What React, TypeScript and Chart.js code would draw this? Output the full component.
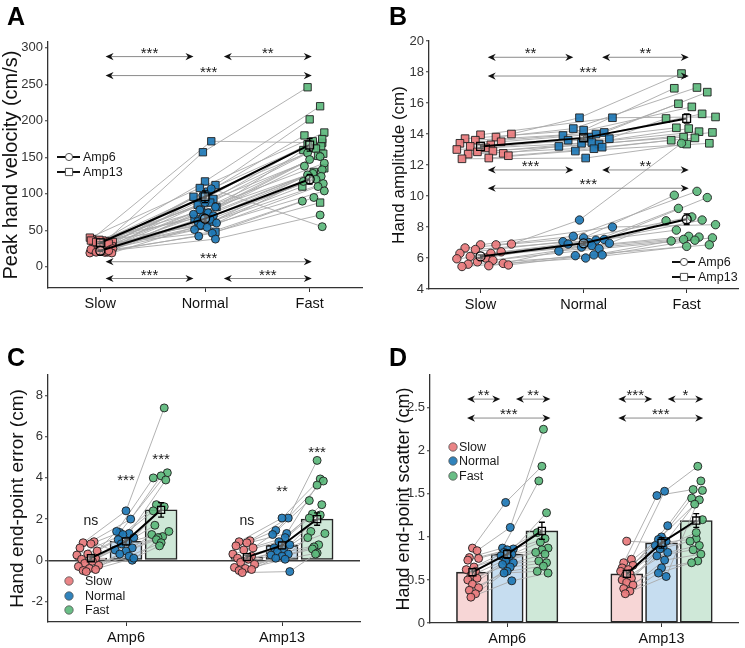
import React, { useEffect, useRef } from 'react';
import { Chart, registerables } from 'chart.js';

Chart.register(...registerables);

const FONT = "'Liberation Sans', Arial, Helvetica, sans-serif";

// ---------------- shared labels ----------------
const speedLabels = ['Slow', 'Normal', 'Fast'];
const ampLabels = ['Amp6', 'Amp13'];

// ---------------- Panel A : peak hand velocity (cm/s) ----------------
const velTicks = [0, 50, 100, 150, 200, 250, 300];
const velSlowAmp6 = [22, 20, 21, 24, 19, 23, 20, 22, 25, 21, 20, 23, 19, 22, 24, 21, 20, 22];
const velNormalAmp6 = [107, 98, 88, 82, 78, 74, 72, 70, 68, 65, 62, 60, 57, 54, 51, 46, 42, 38];
const velFastAmp6 = [55, 156, 151, 147, 142, 138, 133, 128, 126, 124, 120, 117, 114, 110, 104, 95, 90, 71];
const velSlowAmp13 = [38, 35, 32, 30, 40, 36, 33, 29, 34, 37, 31, 35, 28, 33, 36, 30, 34, 32];
const velNormalAmp13 = [172, 157, 117, 112, 108, 103, 96, 93, 92, 88, 85, 82, 78, 74, 66, 62, 56, 48];
const velFastAmp13 = [170, 246, 220, 202, 184, 180, 175, 172, 168, 165, 162, 160, 155, 152, 135, 130, 110, 88];
const velMeanAmp6 = [22, 66, 120];
const velSemAmp6 = [0.8, 4.5, 6.5];
const velMeanAmp13 = [33, 96, 167];
const velSemAmp13 = [1.2, 8, 8.5];
const velJitterSlow = [-0.08, 0.05, -0.03, 0.1, -0.1, 0.02, 0.07, -0.05, 0.12, -0.01, 0.04, -0.07, 0.11, 0.0, -0.09, 0.06, -0.04, 0.08];
const velJitterNormal = [0.06, -0.02, 0.0, 0.1, -0.05, 0.03, -0.11, 0.08, -0.02, 0.05, -0.07, 0.11, -0.04, 0.02, -0.1, 0.07, -0.06, 0.1];
const velJitterFast = [0.12, -0.02, 0.1, 0.0, 0.14, -0.05, 0.12, 0.03, -0.02, 0.11, 0.06, -0.06, 0.13, 0.08, 0.14, 0.04, -0.07, 0.1];
const velSig = [
  { from: 0.05, to: 0.89, y: 288, label: '***' },
  { from: 1.18, to: 2.02, y: 288, label: '**' },
  { from: 0.05, to: 2.02, y: 262, label: '***' },
  { from: 0.05, to: 2.02, y: 7, label: '***' },
  { from: 0.05, to: 0.89, y: -16, label: '***' },
  { from: 1.18, to: 2.02, y: -16, label: '***' },
];

// ---------------- Panel B : hand amplitude (cm) ----------------
const ampTicks = [4, 6, 8, 10, 12, 14, 16, 18, 20];
const ampSlowAmp6 = [6.9, 6.85, 6.85, 6.65, 6.55, 6.4, 6.3, 6.3, 6.1, 6.0, 5.95, 5.85, 5.75, 5.65, 5.6, 5.55, 5.5, 5.45];
const ampNormalAmp6 = [8.45, 8.0, 7.4, 7.3, 7.2, 7.15, 7.05, 7.0, 6.95, 6.9, 6.8, 6.7, 6.6, 6.45, 6.2, 6.2, 6.15, 6.0];
const ampFastAmp6 = [13.4, 8.15, 10.3, 10.05, 9.9, 9.2, 8.65, 8.45, 8.4, 7.8, 7.4, 7.35, 7.3, 7.2, 7.15, 7.1, 6.85, 6.75];
const ampSlowAmp13 = [14.0, 13.95, 13.8, 13.7, 13.6, 13.5, 13.4, 13.3, 13.2, 13.1, 13.0, 12.9, 12.85, 12.75, 12.7, 12.6, 12.45, 12.4];
const ampNormalAmp13 = [15.05, 15.05, 14.35, 14.25, 14.1, 14.0, 13.9, 13.8, 13.7, 13.6, 13.45, 13.4, 13.35, 13.2, 13.15, 13.05, 12.9, 12.45];
const ampFastAmp13 = [17.9, 15.1, 17.0, 16.95, 16.7, 15.95, 15.75, 15.3, 15.0, 14.4, 14.35, 14.15, 14.1, 13.8, 13.75, 13.6, 13.4, 13.35];
const ampMeanAmp6 = [6.1, 6.95, 8.5];
const ampSemAmp6 = [0.1, 0.12, 0.35];
const ampMeanAmp13 = [13.2, 13.75, 15.0];
const ampSemAmp13 = [0.12, 0.15, 0.3];
const ampJitterSlow = [0.3, 0.0, 0.15, -0.15, -0.05, 0.2, -0.2, 0.1, -0.1, 0.05, -0.23, 0.12, -0.03, 0.22, -0.12, 0.27, 0.08, -0.18];
const ampJitterNormal = [-0.04, 0.28, -0.1, 0.0, 0.2, 0.12, -0.2, 0.05, 0.25, -0.15, 0.08, -0.02, 0.15, -0.24, 0.18, 0.1, -0.08, 0.02];
const ampJitterFast = [-0.05, 0.28, 0.1, -0.12, 0.2, -0.08, 0.05, 0.15, -0.2, -0.1, 0.02, 0.12, 0.25, -0.03, 0.08, -0.15, 0.22, 0.0];
const ampSig = [
  { from: 0.07, to: 0.9, y: 18.95, label: '**' },
  { from: 1.18, to: 2.02, y: 18.95, label: '**' },
  { from: 0.07, to: 2.02, y: 17.74, label: '***' },
  { from: 0.07, to: 0.9, y: 11.68, label: '***' },
  { from: 1.18, to: 2.02, y: 11.68, label: '**' },
  { from: 0.07, to: 2.02, y: 10.5, label: '***' },
];

// ---------------- Panel C : hand end-point error (cm) ----------------
const errTicks = [-2, 0, 2, 4, 6, 8];
const errSlowAmp6 = [0.9, 0.85, 0.8, 0.6, 0.45, 0.3, 0.25, 0.1, 0.05, -0.05, -0.15, -0.25, -0.3, -0.4, -0.45, -0.5, -0.55];
const errNormalAmp6 = [0.0, 2.4, 1.35, 2.0, 1.4, 1.3, 1.25, 1.1, 1.0, 0.9, 0.8, 0.6, 0.5, 0.45, 0.3, 0.2, 0.1];
const errFastAmp6 = [1.1, 7.4, 4.25, 4.1, 4.0, 3.9, 2.7, 2.6, 2.4, 1.7, 1.4, 1.25, 1.15, 1.1, 1.0, 0.85, 0.7];
const errSlowAmp13 = [0.95, 0.9, 0.85, 0.7, 0.6, 0.5, 0.3, 0.2, 0.1, 0.05, -0.1, -0.2, -0.35, -0.4, -0.45, -0.5, -0.6];
const errNormalAmp13 = [2.05, 2.05, 1.45, 1.3, 1.25, 1.1, 0.9, 0.75, 0.6, 0.5, 0.4, 0.3, 0.25, 0.2, 0.1, 0.05, -0.55];
const errFastAmp13 = [4.85, 3.95, 3.85, 3.65, 2.9, 2.7, 2.25, 2.2, 2.05, 1.4, 1.3, 1.1, 0.75, 0.65, 0.55, 0.35, 0.3];
const errMeanAmp6 = [0.1, 0.92, 2.45];
const errSemAmp6 = [0.1, 0.15, 0.35];
const errMeanAmp13 = [0.15, 0.72, 2.0];
const errSemAmp13 = [0.1, 0.15, 0.3];
const errJitterSlow = [0.02, -0.05, 0.0, -0.07, 0.04, -0.02, -0.09, 0.03, -0.06, 0.01, -0.04, 0.05, -0.08, -0.01, 0.03, -0.05, -0.03];
const errJitterNormal = [0.04, 0.0, -0.04, 0.03, -0.06, 0.02, -0.02, 0.05, -0.05, 0.01, -0.03, 0.04, -0.07, 0.0, -0.04, 0.02, 0.05];
const errJitterFast = [0.0, 0.02, 0.04, 0.0, -0.05, 0.03, -0.03, 0.02, -0.05, -0.04, 0.05, -0.06, 0.01, -0.02, -0.03, 0.0, -0.01];
const errLabels = [
  { x: 0.775, y: 1.7, text: 'ns' },
  { x: 1.0, y: 3.66, text: '***' },
  { x: 1.225, y: 4.68, text: '***' },
  { x: 1.775, y: 1.7, text: 'ns' },
  { x: 2.0, y: 3.12, text: '**' },
  { x: 2.225, y: 5.02, text: '***' },
];

// ---------------- Panel D : hand end-point scatter (cm) ----------------
const scaTicks = [0, 0.5, 1, 1.5, 2, 2.5];
const scaSlowAmp6 = [0.87, 0.84, 0.76, 0.75, 0.73, 0.65, 0.62, 0.6, 0.55, 0.52, 0.5, 0.45, 0.41, 0.38, 0.34, 0.3];
const scaNormalAmp6 = [1.4, 1.11, 0.87, 0.86, 0.85, 0.82, 0.8, 0.78, 0.75, 0.72, 0.7, 0.68, 0.65, 0.6, 0.58, 0.49];
const scaFastAmp6 = [1.82, 2.25, 1.65, 1.28, 1.05, 0.98, 0.94, 0.87, 0.85, 0.82, 0.8, 0.72, 0.7, 0.66, 0.6, 0.58];
const scaSlowAmp13 = [0.95, 0.74, 0.7, 0.67, 0.64, 0.62, 0.6, 0.57, 0.55, 0.52, 0.5, 0.47, 0.44, 0.4, 0.37, 0.34];
const scaNormalAmp13 = [0.93, 1.53, 1.48, 1.13, 1.0, 0.97, 0.95, 0.9, 0.88, 0.86, 0.82, 0.78, 0.73, 0.64, 0.58, 0.54];
const scaFastAmp13 = [0.98, 1.82, 1.55, 1.65, 1.45, 1.43, 1.38, 1.2, 1.05, 0.95, 0.9, 0.85, 0.8, 0.72, 0.7, 1.54];
const scaMeanAmp6 = [0.59, 0.8, 1.07];
const scaSemAmp6 = [0.04, 0.05, 0.1];
const scaMeanAmp13 = [0.57, 0.93, 1.19];
const scaSemAmp13 = [0.04, 0.06, 0.08];
const scaJitterSlow = [0.0, 0.03, -0.02, 0.04, -0.03, 0.01, -0.04, 0.02, -0.01, 0.03, -0.03, 0.0, 0.04, -0.02, 0.02, -0.01];
const scaJitterNormal = [-0.01, 0.02, -0.03, 0.04, 0.0, -0.02, 0.03, -0.04, 0.01, -0.01, 0.04, -0.03, 0.02, 0.0, -0.02, 0.03];
const scaJitterFast = [0.0, 0.01, -0.02, 0.03, -0.03, 0.02, -0.01, 0.04, 0.0, -0.04, 0.02, -0.02, 0.03, 0.01, -0.03, 0.04];
const scaSig = [
  { from: 0.74, to: 0.955, y: 2.6, label: '**' },
  { from: 1.057, to: 1.28, y: 2.6, label: '**' },
  { from: 0.74, to: 1.28, y: 2.38, label: '***' },
  { from: 1.72, to: 1.94, y: 2.6, label: '***' },
  { from: 2.04, to: 2.27, y: 2.6, label: '*' },
  { from: 1.72, to: 2.27, y: 2.38, label: '***' },
];

// ---------------- styles ----------------
const POINT_COLORS = ['rgba(232,122,124,0.92)', 'rgba(30,120,182,0.92)', 'rgba(92,184,124,0.92)'];
const BAR_COLORS = ['#f7d6d6', '#c6ddf0', '#cfe8d8'];
const LINE_GRAY = '#a9a9a9';
const COND_OFFSET = [-0.225, 0, 0.225];

// ---------------- overlay plugin ----------------
function drawHead(ctx: CanvasRenderingContext2D, x: number, y: number, dir: number) {
  const L = 8, W = 3.6, N = 5.5;
  ctx.fillStyle = '#111';
  ctx.beginPath();
  ctx.moveTo(x, y);
  ctx.lineTo(x + dir * L, y - W);
  ctx.lineTo(x + dir * N, y);
  ctx.lineTo(x + dir * L, y + W);
  ctx.closePath();
  ctx.fill();
}

const overlayPlugin: any = {
  id: 'overlay',
  beforeDatasetDraw(chart: any, args: any) {
    const ds: any = chart.data.datasets[args.index];
    if (!ds.errors) return;
    const { ctx } = chart;
    const xs = chart.scales.x, ys = chart.scales.y;
    ctx.save();
    ctx.strokeStyle = '#000';
    ctx.lineWidth = 1.3;
    ds.data.forEach((p: any, i: number) => {
      const px = xs.getPixelForValue(p.x);
      const t = ys.getPixelForValue(p.y + ds.errors[i]);
      const b = ys.getPixelForValue(p.y - ds.errors[i]);
      const c = 3;
      ctx.beginPath();
      ctx.moveTo(px, t); ctx.lineTo(px, b);
      ctx.moveTo(px - c, t); ctx.lineTo(px + c, t);
      ctx.moveTo(px - c, b); ctx.lineTo(px + c, b);
      ctx.stroke();
    });
    ctx.restore();
  },
  afterDatasetsDraw(chart: any, _a: any, opts: any) {
    const { ctx } = chart;
    const xs = chart.scales.x, ys = chart.scales.y;
    ctx.save();
    (opts.arrows || []).forEach((a: any) => {
      const x1 = xs.getPixelForValue(a.from), x2 = xs.getPixelForValue(a.to), y = ys.getPixelForValue(a.y);
      ctx.strokeStyle = '#8a8a8a';
      ctx.lineWidth = 1;
      ctx.beginPath(); ctx.moveTo(x1 + 3, y); ctx.lineTo(x2 - 3, y); ctx.stroke();
      drawHead(ctx, x1, y, 1);
      drawHead(ctx, x2, y, -1);
      ctx.fillStyle = '#1a1a1a';
      ctx.font = `15px ${FONT}`;
      ctx.textAlign = 'center';
      ctx.textBaseline = 'alphabetic';
      ctx.fillText(a.label, (x1 + x2) / 2, y + 1);
    });
    (opts.texts || []).forEach((t: any) => {
      ctx.fillStyle = '#1a1a1a';
      ctx.font = `${t.text === 'ns' ? 14 : 15}px ${FONT}`;
      ctx.textAlign = 'center';
      ctx.textBaseline = 'alphabetic';
      ctx.fillText(t.text, xs.getPixelForValue(t.x), ys.getPixelForValue(t.y));
    });
    (opts.legend || []).forEach((it: any) => {
      ctx.textAlign = 'left';
      ctx.textBaseline = 'middle';
      ctx.font = `12.5px ${FONT}`;
      if (it.kind === 'dot') {
        ctx.fillStyle = it.color;
        ctx.strokeStyle = '#555';
        ctx.lineWidth = 0.8;
        ctx.beginPath(); ctx.arc(it.x, it.y, 4.2, 0, Math.PI * 2); ctx.fill(); ctx.stroke();
        ctx.fillStyle = '#1a1a1a';
        ctx.fillText(it.text, it.x + it.gap, it.y + 0.5);
      } else {
        ctx.strokeStyle = '#111';
        ctx.lineWidth = 2;
        ctx.beginPath(); ctx.moveTo(it.x, it.y); ctx.lineTo(it.x + 23, it.y); ctx.stroke();
        ctx.fillStyle = '#fff';
        ctx.strokeStyle = '#555';
        ctx.lineWidth = 1;
        const mx = it.x + 12;
        ctx.beginPath();
        if (it.kind === 'lineCircle') ctx.arc(mx, it.y, 3.6, 0, Math.PI * 2);
        else ctx.rect(mx - 3.6, it.y - 3.6, 7.2, 7.2);
        ctx.fill(); ctx.stroke();
        ctx.fillStyle = '#1a1a1a';
        ctx.fillText(it.text, it.x + 26, it.y + 0.5);
      }
    });
    ctx.restore();
  },
};

// ---------------- dataset builders ----------------
function speedPanelDatasets(series: number[][], jit: number[][], style: string, radius: number) {
  const ds: any[] = [];
  const n = series[0].length;
  for (let i = 0; i < n; i++) {
    ds.push({
      type: 'line',
      data: series.map((s, c) => ({ x: c + jit[c][i], y: s[i] })),
      borderColor: LINE_GRAY, borderWidth: 0.9, pointRadius: 0, fill: false, order: 4,
    });
  }
  series.forEach((s, c) => {
    ds.push({
      type: 'scatter',
      data: s.map((v, i) => ({ x: c + jit[c][i], y: v })),
      pointStyle: style, pointRadius: radius,
      backgroundColor: POINT_COLORS[c], borderColor: '#1f1f1f', borderWidth: 0.9, order: 3,
    });
  });
  return ds;
}

function meanDataset(means: number[], sem: number[], xs: number[], style: string, radius: number) {
  return {
    type: 'line',
    data: means.map((m, c) => ({ x: xs[c], y: m })),
    errors: sem,
    borderColor: '#000', borderWidth: 2,
    pointStyle: style, pointRadius: radius,
    pointBackgroundColor: 'rgba(255,255,255,0.35)', pointBorderColor: '#000', pointBorderWidth: 1.3,
    fill: false, order: 1,
  };
}

function groupPanelDatasets(groups: number[][][], jit: number[][], means: number[][], sems: number[][], radius: number) {
  const ds: any[] = [];
  // bars
  for (let c = 0; c < 3; c++) {
    ds.push({
      type: 'bar',
      data: means.map((m, g) => ({ x: g + 1 + COND_OFFSET[c], y: m[c] })),
      backgroundColor: BAR_COLORS[c], borderColor: '#262626', borderWidth: 1.6,
      borderSkipped: false, barThickness: 32, grouped: false, order: 6,
    });
  }
  groups.forEach((series, g) => {
    const n = series[0].length;
    for (let i = 0; i < n; i++) {
      ds.push({
        type: 'line',
        data: series.map((s, c) => ({ x: g + 1 + COND_OFFSET[c] + jit[c][i], y: s[i] })),
        borderColor: LINE_GRAY, borderWidth: 0.9, pointRadius: 0, fill: false, order: 4,
      });
    }
    series.forEach((s, c) => {
      ds.push({
        type: 'scatter',
        data: s.map((v, i) => ({ x: g + 1 + COND_OFFSET[c] + jit[c][i], y: v })),
        pointStyle: 'circle', pointRadius: radius,
        backgroundColor: POINT_COLORS[c], borderColor: '#1f1f1f', borderWidth: 0.9, order: 3,
      });
    });
    ds.push(meanDataset(means[g], sems[g], [0, 1, 2].map((c) => g + 1 + COND_OFFSET[c]), 'rect', 5));
  });
  return ds;
}

// ---------------- axis helpers ----------------
function yAxis(opts: any) {
  return {
    type: 'linear',
    min: opts.min, max: opts.max,
    afterBuildTicks: (s: any) => { s.ticks = opts.ticks.map((v: number) => ({ value: v })); },
    afterFit: (s: any) => { s.width = opts.width; },
    ticks: { callback: (v: any) => String(v), color: '#333', font: { family: FONT, size: 13 }, padding: 2 },
    grid: {
      drawOnChartArea: !!opts.zeroLine,
      color: (c: any) => (opts.zeroLine && c.tick && c.tick.value === 0 ? '#3a3a3a' : 'rgba(0,0,0,0)'),
      lineWidth: 1.5,
      drawTicks: true, tickLength: 3, tickColor: '#333', tickWidth: 1,
    },
    border: { display: true, color: '#333', width: 1.3 },
    title: {
      display: true, text: opts.title, color: '#111',
      font: { family: FONT, size: opts.titleSize, lineHeight: 1.2 },
      padding: { top: opts.titlePad, bottom: 0 },
    },
  };
}

function xAxis(opts: any) {
  return {
    type: 'linear',
    min: opts.min, max: opts.max, offset: false,
    afterBuildTicks: (s: any) => { s.ticks = opts.ticks.map((v: number) => ({ value: v })); },
    afterFit: (s: any) => { s.height = opts.height; },
    ticks: {
      callback: (v: any) => opts.labels[opts.ticks.indexOf(v)] ?? '',
      color: '#111', font: { family: FONT, size: 14.5 }, padding: 3, maxRotation: 0, autoSkip: false,
    },
    grid: { drawOnChartArea: false, drawTicks: true, tickLength: 4, tickColor: '#333', offset: false },
    border: { display: true, color: '#333', width: 1.3 },
  };
}

function baseOptions(padding: any, scales: any, overlay: any) {
  return {
    responsive: false,
    animation: false,
    events: [],
    layout: { padding },
    plugins: { legend: { display: false }, tooltip: { enabled: false }, overlay },
    scales,
  };
}

// ---------------- chart configs ----------------
function configA() {
  const datasets = [
    ...speedPanelDatasets([velSlowAmp6, velNormalAmp6, velFastAmp6], [velJitterSlow, velJitterNormal, velJitterFast], 'circle', 4),
    ...speedPanelDatasets([velSlowAmp13, velNormalAmp13, velFastAmp13], [velJitterSlow, velJitterNormal, velJitterFast], 'rect', 5.2),
    meanDataset(velMeanAmp6, velSemAmp6, [0, 1, 2], 'circle', 4.5),
    meanDataset(velMeanAmp13, velSemAmp13, [0, 1, 2], 'rect', 5.5),
  ];
  return {
    type: 'scatter',
    data: { datasets },
    options: baseOptions(
      { top: 42, right: 10, left: 0, bottom: 0 },
      {
        x: xAxis({ min: -0.5, max: 2.5, ticks: [0, 1, 2], labels: speedLabels, height: 32 }),
        y: yAxis({ min: -29, max: 308, ticks: velTicks, width: 48, title: 'Peak hand velocity (cm/s)', titleSize: 20, titlePad: -1 }),
      },
      {
        arrows: velSig,
        legend: [
          { kind: 'lineCircle', text: ampLabels[0], x: 57, y: 157 },
          { kind: 'lineRect', text: ampLabels[1], x: 57, y: 172 },
        ],
      },
    ),
    plugins: [overlayPlugin],
  };
}

function configB() {
  const datasets = [
    ...speedPanelDatasets([ampSlowAmp6, ampNormalAmp6, ampFastAmp6], [ampJitterSlow, ampJitterNormal, ampJitterFast], 'circle', 4.2),
    ...speedPanelDatasets([ampSlowAmp13, ampNormalAmp13, ampFastAmp13], [ampJitterSlow, ampJitterNormal, ampJitterFast], 'rect', 5.4),
    meanDataset(ampMeanAmp6, ampSemAmp6, [0, 1, 2], 'circle', 4.5),
    meanDataset(ampMeanAmp13, ampSemAmp13, [0, 1, 2], 'rect', 5.5),
  ];
  return {
    type: 'scatter',
    data: { datasets },
    options: baseOptions(
      { top: 41, right: 0, left: 0, bottom: 0 },
      {
        x: xAxis({ min: -0.5, max: 2.5, ticks: [0, 1, 2], labels: speedLabels, height: 31 }),
        y: yAxis({ min: 4, max: 20, ticks: ampTicks, width: 57, title: 'Hand amplitude (cm)', titleSize: 17, titlePad: 17 }),
      },
      {
        arrows: ampSig,
        legend: [
          { kind: 'lineCircle', text: ampLabels[0], x: 300, y: 262 },
          { kind: 'lineRect', text: ampLabels[1], x: 300, y: 277 },
        ],
      },
    ),
    plugins: [overlayPlugin],
  };
}

function configC() {
  const datasets = groupPanelDatasets(
    [[errSlowAmp6, errNormalAmp6, errFastAmp6], [errSlowAmp13, errNormalAmp13, errFastAmp13]],
    [errJitterSlow, errJitterNormal, errJitterFast],
    [errMeanAmp6, errMeanAmp13],
    [errSemAmp6, errSemAmp13],
    4,
  );
  return {
    type: 'bar',
    data: { datasets },
    options: baseOptions(
      { top: 55, right: 12, left: 0, bottom: 0 },
      {
        x: xAxis({ min: 0.5, max: 2.5, ticks: [1, 2], labels: ampLabels, height: 26 }),
        y: yAxis({ min: -3, max: 9, ticks: errTicks, width: 48, title: 'Hand end-point error (cm)', titleSize: 19, titlePad: 6, zeroLine: true }),
      },
      {
        texts: errLabels,
        legend: [
          { kind: 'dot', color: POINT_COLORS[0], text: speedLabels[0], x: 69, y: 261, gap: 16 },
          { kind: 'dot', color: POINT_COLORS[1], text: speedLabels[1], x: 69, y: 276, gap: 16 },
          { kind: 'dot', color: POINT_COLORS[2], text: speedLabels[2], x: 69, y: 290, gap: 16 },
        ],
      },
    ),
    plugins: [overlayPlugin],
  };
}

function configD() {
  const datasets = groupPanelDatasets(
    [[scaSlowAmp6, scaNormalAmp6, scaFastAmp6], [scaSlowAmp13, scaNormalAmp13, scaFastAmp13]],
    [scaJitterSlow, scaJitterNormal, scaJitterFast],
    [scaMeanAmp6, scaMeanAmp13],
    [scaSemAmp6, scaSemAmp13],
    4,
  );
  return {
    type: 'bar',
    data: { datasets },
    options: baseOptions(
      { top: 55, right: 0, left: 0, bottom: 0 },
      {
        x: xAxis({ min: 0.5, max: 2.5, ticks: [1, 2], labels: ampLabels, height: 25 }),
        y: yAxis({ min: 0, max: 2.88, ticks: scaTicks, width: 58, title: 'Hand end-point scatter (cm)', titleSize: 18, titlePad: 21 }),
      },
      {
        arrows: scaSig,
        legend: [
          { kind: 'dot', color: POINT_COLORS[0], text: speedLabels[0], x: 81, y: 127, gap: 6 },
          { kind: 'dot', color: POINT_COLORS[1], text: speedLabels[1], x: 81, y: 141, gap: 6 },
          { kind: 'dot', color: POINT_COLORS[2], text: speedLabels[2], x: 81, y: 156, gap: 6 },
        ],
      },
    ),
    plugins: [overlayPlugin],
  };
}

// ---------------- components ----------------
function Panel({ makeConfig, left, top, width, height, letter }: any) {
  const ref = useRef<HTMLCanvasElement>(null);
  useEffect(() => {
    const chart = new Chart(ref.current as HTMLCanvasElement, makeConfig());
    return () => chart.destroy();
  }, []);
  return (
    <div style={{ position: 'absolute', left, top, width, height }}>
      <canvas ref={ref} width={width} height={height} style={{ width, height, display: 'block' }} />
      <div
        style={{
          position: 'absolute', left: letter.x, top: letter.y, fontFamily: FONT, fontWeight: 'bold',
          fontSize: 25, lineHeight: '25px', color: '#000',
        }}
      >
        {letter.text}
      </div>
    </div>
  );
}

export default function App() {
  return (
    <div style={{ position: 'absolute', left: 0, top: 0, width: 745, height: 648, background: '#fff', overflow: 'hidden' }}>
      <Panel makeConfig={configA} left={0} top={0} width={372} height={320} letter={{ text: 'A', x: 7, y: 4 }} />
      <Panel makeConfig={configB} left={372} top={0} width={373} height={320} letter={{ text: 'B', x: 17, y: 4 }} />
      <Panel makeConfig={configC} left={0} top={320} width={372} height={328} letter={{ text: 'C', x: 7, y: 25 }} />
      <Panel makeConfig={configD} left={372} top={320} width={373} height={328} letter={{ text: 'D', x: 17, y: 25 }} />
    </div>
  );
}
